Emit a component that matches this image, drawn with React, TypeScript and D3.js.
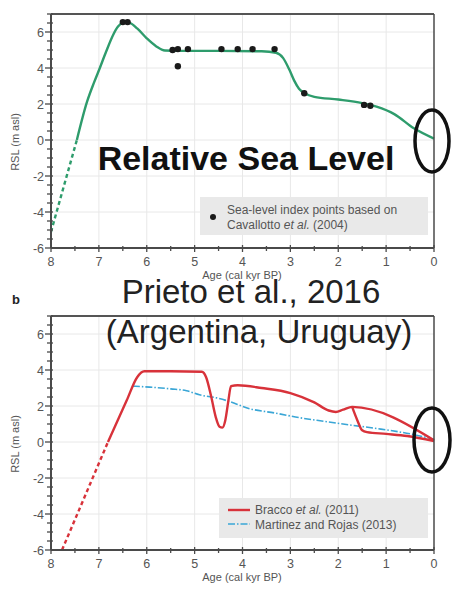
import React from "react";
import * as d3 from "d3";

// ---------- Data ----------
const xTicks = [8, 7, 6, 5, 4, 3, 2, 1, 0];
const yTicks = [-6, -4, -2, 0, 2, 4, 6];

// Panel a: green RSL curve (age kyr BP, RSL m)
const greenDashAge = [8.0, 7.46];
const greenDashRsl = [-5.1, 0];
const greenAge = [7.46, 7.25, 7.1, 6.98, 6.85, 6.7, 6.6, 6.5, 6.45, 6.35, 6.2, 6.0, 5.8, 5.62, 5.3, 4.5, 3.6, 3.3, 3.15, 3.02, 2.92, 2.82, 2.7, 2.5, 2.0, 1.5, 1.2, 0.83, 0.42, 0.0];
const greenRsl = [0, 2.1, 3.2, 4.0, 4.9, 5.85, 6.3, 6.52, 6.55, 6.5, 6.2, 5.65, 5.2, 4.97, 4.95, 4.95, 4.93, 4.85, 4.55, 3.9, 3.3, 2.85, 2.6, 2.4, 2.25, 2.05, 1.85, 1.44, 0.65, 0.08];

const pointAge = [6.5, 6.4, 5.46, 5.35, 5.14, 4.44, 4.1, 3.79, 3.33, 5.35, 2.71, 1.46, 1.33];
const pointRsl = [6.55, 6.55, 5.0, 5.05, 5.05, 5.05, 5.05, 5.05, 5.05, 4.1, 2.6, 1.95, 1.9];

// Panel b: Bracco et al. (2011)
const redDashAge = [7.77, 6.81];
const redDashRsl = [-6, 0];
const redAge = [6.81, 6.42, 6.2, 6.05, 5.5, 4.85, 4.76, 4.66, 4.56, 4.48, 4.42, 4.36, 4.3, 4.24, 4.1, 3.6, 3.0, 2.5, 2.2, 2.05, 1.9, 1.71, 0.0];
const redRsl = [0, 2.3, 3.6, 3.93, 3.93, 3.9, 3.6, 2.6, 1.4, 0.85, 0.8, 1.2, 2.2, 3.1, 3.15, 3.0, 2.72, 2.2, 1.75, 1.67, 1.8, 1.95, 0.1];
const redLowAge = [1.71, 1.6, 1.5, 1.4, 1.0, 0.56, 0.0];
const redLowRsl = [1.95, 1.2, 0.65, 0.55, 0.45, 0.33, 0.05];

// Panel b: Martinez and Rojas (2013)
const blueAge = [6.29, 5.94, 5.5, 5.17, 4.9, 4.54, 4.33, 3.85, 3.3, 2.81, 2.3, 1.77, 1.2, 0.4, 0.0];
const blueRsl = [3.1, 3.05, 2.95, 2.85, 2.62, 2.45, 2.3, 1.85, 1.6, 1.35, 1.15, 0.95, 0.75, 0.4, 0.15];

const FONT = "'Liberation Sans', Arial, sans-serif";

type Pt = [number, number];
const zip = (a: number[], b: number[]): Pt[] => a.map((v, i) => [v, b[i]]);

function Panel({ top, bottom, children, label }: { top: number; bottom: number; children: (x: d3.ScaleLinear<number, number>, y: d3.ScaleLinear<number, number>) => React.ReactNode; label?: string }) {
  const x = d3.scaleLinear().domain([8, 0]).range([51, 434]);
  const y = d3.scaleLinear().domain([-6, 7]).range([bottom, top]);
  const minorX = d3.range(0, 8.01, 0.5);
  const minorY = d3.range(-6, 7.01, 0.5);
  const axisColor = "#4a4a4a";
  return (
    <g>
      {xTicks.filter((t) => t !== 8 && t !== 0).map((t) => (
        <line key={"gx" + t} x1={x(t)} x2={x(t)} y1={y(7)} y2={y(-6)} stroke="#e8e8e8" strokeWidth={1} />
      ))}
      {yTicks.filter((t) => t !== -6).map((t) => (
        <line key={"gy" + t} x1={x(8)} x2={x(0)} y1={y(t)} y2={y(t)} stroke="#e8e8e8" strokeWidth={1} />
      ))}
      {children(x, y)}
      <line x1={x(8)} x2={x(0)} y1={y(7)} y2={y(7)} stroke="#555" strokeWidth={2} />
      <line x1={x(0)} x2={x(0)} y1={y(7)} y2={y(-6)} stroke={axisColor} strokeWidth={1.5} />
      <line x1={x(8)} x2={x(8)} y1={y(7)} y2={y(-6)} stroke={axisColor} strokeWidth={2} />
      <line x1={x(8)} x2={x(0)} y1={y(-6)} y2={y(-6)} stroke={axisColor} strokeWidth={2} />
      {minorX.map((t) => {
        const major = Math.abs(t - Math.round(t)) < 1e-6;
        return <line key={"tx" + t} x1={x(t)} x2={x(t)} y1={y(-6) - (major ? 3 : 2)} y2={y(-6) + (major ? 4 : 3)} stroke={axisColor} strokeWidth={1.3} />;
      })}
      {minorY.map((t) => {
        const major = Math.abs(t / 2 - Math.round(t / 2)) < 1e-6;
        return <line key={"ty" + t} x1={x(8) - (major ? 6 : 4)} x2={x(8) + 2} y1={y(t)} y2={y(t)} stroke={axisColor} strokeWidth={1.3} />;
      })}
      {xTicks.map((t) => (
        <text key={"lx" + t} x={x(t)} y={y(-6) + 18} textAnchor="middle" fontSize={12.5} fill="#555" fontFamily={FONT}>{t}</text>
      ))}
      {yTicks.map((t) => (
        <text key={"ly" + t} x={x(8) - 7} y={y(t) + 4.5} textAnchor="end" fontSize={12.5} fill="#555" fontFamily={FONT}>{t}</text>
      ))}
      <text x={242} y={y(-6) + 31} textAnchor="middle" fontSize={11} fill="#555" fontFamily={FONT}>Age (cal kyr BP)</text>
      <text transform={`translate(19,${y(0) + 2}) rotate(-90)`} textAnchor="middle" fontSize={11} fill="#555" fontFamily={FONT}>RSL (m asl)</text>
      {label && <text x={12} y={y(7) - 12} fontSize={13} fontWeight="bold" fill="#222" fontFamily={FONT}>{label}</text>}
    </g>
  );
}

export default function App() {
  const curve = d3.curveMonotoneX;
  return (
    <svg width={456} height={592} style={{ position: "absolute", left: 0, top: 0, background: "#fff" }}>
      <rect width={456} height={592} fill="#fff" />
      <Panel top={14} bottom={248}>
        {(x, y) => {
          const line = d3.line<Pt>().x((d) => x(d[0])).y((d) => y(d[1])).curve(curve);
          const lin = d3.line<Pt>().x((d) => x(d[0])).y((d) => y(d[1]));
          return (
            <g>
              <path d={lin(zip(greenDashAge, greenDashRsl)) || ""} fill="none" stroke="#2e9c6c" strokeWidth={2.4} strokeDasharray="4,3" />
              <path d={line(zip(greenAge, greenRsl)) || ""} fill="none" stroke="#2e9c6c" strokeWidth={2.4} />
              {zip(pointAge, pointRsl).map((d, i) => (
                <circle key={i} cx={x(d[0])} cy={y(d[1])} r={3.2} fill="#1a1a1a" />
              ))}
              <rect x={200} y={197} width={228} height={38} fill="#e9e9e9" />
              <circle cx={213} cy={217} r={3} fill="#1a1a1a" />
              <text x={227} y={214} fontSize={12} fill="#555" fontFamily={FONT}>Sea-level index points based on</text>
              <text x={227} y={229} fontSize={12} fill="#555" fontFamily={FONT}>Cavallotto <tspan fontStyle="italic">et al.</tspan> (2004)</text>
            </g>
          );
        }}
      </Panel>
      <Panel top={316} bottom={550} label="b">
        {(x, y) => {
          const line = d3.line<Pt>().x((d) => x(d[0])).y((d) => y(d[1])).curve(curve);
          const lin = d3.line<Pt>().x((d) => x(d[0])).y((d) => y(d[1]));
          return (
            <g>
              <path d={line(zip(blueAge, blueRsl)) || ""} fill="none" stroke="#3aa6d6" strokeWidth={1.6} strokeDasharray="7,2,1.5,2" />
              <path d={lin(zip(redDashAge, redDashRsl)) || ""} fill="none" stroke="#d8323a" strokeWidth={2.4} strokeDasharray="4,3" />
              <path d={line(zip(redAge, redRsl)) || ""} fill="none" stroke="#d8323a" strokeWidth={2.4} />
              <path d={line(zip(redLowAge, redLowRsl)) || ""} fill="none" stroke="#d8323a" strokeWidth={2.4} />
              <rect x={219} y={498} width={209} height={40} fill="#e9e9e9" />
              <line x1={228} x2={250} y1={510} y2={510} stroke="#d8323a" strokeWidth={2.4} />
              <line x1={228} x2={250} y1={524} y2={524} stroke="#3aa6d6" strokeWidth={1.6} strokeDasharray="7,2,1.5,2" />
              <text x={255} y={514} fontSize={12} fill="#555" fontFamily={FONT}>Bracco <tspan fontStyle="italic">et al.</tspan> (2011)</text>
              <text x={255} y={529} fontSize={12} fill="#555" fontFamily={FONT}>Martinez and Rojas (2013)</text>
            </g>
          );
        }}
      </Panel>
      <text x={246} y={170} textAnchor="middle" fontSize={34} fontWeight="bold" fill="#111" fontFamily={FONT}>Relative Sea Level</text>
      <text x={251} y={303} textAnchor="middle" fontSize={33} fill="#222" fontFamily={FONT}>Prieto et al., 2016</text>
      <text x={259} y={343} textAnchor="middle" fontSize={33} fill="#222" fontFamily={FONT}>(Argentina, Uruguay)</text>
      <ellipse cx={432} cy={141} rx={17} ry={31} fill="none" stroke="#111" strokeWidth={3.5} />
      <ellipse cx={432} cy={440} rx={18} ry={32} fill="none" stroke="#111" strokeWidth={3.5} />
    </svg>
  );
}
